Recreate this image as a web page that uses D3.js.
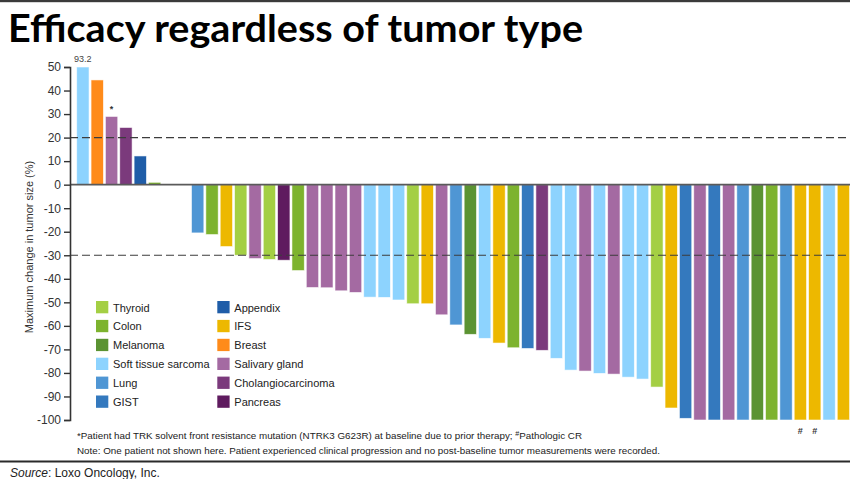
<!DOCTYPE html>
<html><head><meta charset="utf-8">
<script src="https://cdn.jsdelivr.net/npm/d3@7"></script>
<style>body{margin:0;background:#fff;} svg{display:block;font-family:"Liberation Sans",Arial,sans-serif;}</style>
</head><body><svg id="c" width="850" height="479"></svg>
<script>
// ---- data ----
const titleText = "Efficacy regardless of tumor type";
const yAxisLabel = "Maximum change in tumor size (%)";
const tumorTypes = ["Thyroid","Colon","Melanoma","Soft tissue sarcoma","Lung","GIST",
                    "Appendix","IFS","Breast","Salivary gland","Cholangiocarcinoma","Pancreas"];
const typeColors = ["#A4CF44","#7DB32E","#5B9332","#8DD3FE","#4F96D4","#3479BE",
                    "#1F5DA8","#EDB800","#FF8B1A","#A46AA2","#7B3A7C","#5F1B5F"];
const patientTypes = [
  "Soft tissue sarcoma","Breast","Salivary gland","Cholangiocarcinoma","Appendix","Colon",null,null,
  "Lung","Colon","IFS","Thyroid","Salivary gland","Thyroid","Pancreas","Colon",
  "Salivary gland","Salivary gland","Salivary gland","Salivary gland",
  "Soft tissue sarcoma","Soft tissue sarcoma","Soft tissue sarcoma","Thyroid","IFS","Salivary gland",
  "Lung","Melanoma","Soft tissue sarcoma","IFS","Colon","GIST","Cholangiocarcinoma",
  "Soft tissue sarcoma","Soft tissue sarcoma","Salivary gland","Soft tissue sarcoma","Salivary gland",
  "Soft tissue sarcoma","Soft tissue sarcoma","Thyroid","IFS","GIST","Salivary gland","GIST",
  "Salivary gland","Lung","Melanoma","Colon","Lung","IFS","IFS","Soft tissue sarcoma","IFS"];
const patientValues = [
  93.2, 44.5, 29, 24.3, 12.2, 1.0, 0, 0,
  -20.5, -21.2, -26.3, -30, -31.4, -31.8, -32.1, -36.5,
  -43.7, -43.8, -45.1, -45.8,
  -47.8, -47.9, -49, -50.6, -50.6, -55.3,
  -59.6, -63.6, -65.3, -67.3, -69.3, -69.6, -70.4,
  -73.8, -78.8, -79.2, -80.2, -80.5,
  -81.8, -82.6, -86, -94.9, -99.3, -100, -100,
  -100, -100, -100, -100, -100, -100, -100, -100, -100];
const patientMarks = ["", "", "*", "", "", "", "", "",
  "","","","","","","","", "","","","", "","","","","","",
  "","","","","","","", "","","","","", "","","","","","","",
  "","","","","","#","#","",""];
const valueLabels = [{index:0, text:"93.2"}];
const yTicks = [50,40,30,20,10,0,-10,-20,-30,-40,-50,-60,-70,-80,-90,-100];
const refLines = [20, -30];
const footnote1Parts = ["*Patient had TRK solvent front resistance mutation (NTRK3 G623R) at baseline due to prior therapy; ", "#", "Pathologic CR"];
const footnote2 = "Note: One patient not shown here. Patient experienced clinical progression and no post-baseline tumor measurements were recorded.";
const sourceLabel = "Source";
const sourceText = ": Loxo Oncology, Inc.";

// ---- drawing ----
const svg = d3.select("#c");
const color = d3.scaleOrdinal().domain(tumorTypes).range(typeColors);
const x = d3.scaleBand().domain(d3.range(patientValues.length))
  .range([76.7, 849.6]).paddingInner(0.14).paddingOuter(0);
const y = d3.scaleLinear().domain([-100, 50]).range([420, 67]);
const axisX = 70;

// top rule
svg.append("rect").attr("x",0).attr("y",0).attr("width",850).attr("height",2.2).attr("fill","#3a3a3a");

// title
svg.append("text").attr("x",8).attr("y",42)
  .attr("font-family","Lato, 'Open Sans', sans-serif").attr("font-weight","bold")
  .attr("font-size",38).attr("fill","#000")
  .attr("textLength",575).attr("lengthAdjust","spacingAndGlyphs")
  .text(titleText);

// bars
const data = patientValues.map((v,i)=>({i, v, t: patientTypes[i], m: patientMarks[i]}));
svg.append("g").selectAll("rect").data(data.filter(d=>d.t)).join("rect")
  .attr("x", d=>x(d.i)).attr("width", x.bandwidth())
  .attr("y", d=>y(Math.min(Math.max(d.v, 0), 50)))
  .attr("height", d=>Math.abs(y(Math.min(Math.max(d.v,-100),50)) - y(0)))
  .attr("fill", d=>color(d.t))
  .attr("stroke","#ffffff").attr("stroke-opacity",0.7).attr("stroke-width",0.8);

// zero line
svg.append("line").attr("x1",axisX).attr("x2",850).attr("y1",y(0)).attr("y2",y(0))
  .attr("stroke","#5a5a5a").attr("stroke-width",1.6);

// reference dashed lines
svg.append("g").selectAll("line").data(refLines).join("line")
  .attr("x1",axisX).attr("x2",850).attr("y1",d=>y(d)).attr("y2",d=>y(d))
  .attr("stroke","#3c3c3c").attr("stroke-width",1.1).attr("stroke-dasharray","8,4");

// y axis
const yAxis = d3.axisLeft(y).tickValues(yTicks).tickSize(6).tickPadding(3).tickFormat(d=>String(d));
const gy = svg.append("g").attr("transform",`translate(${axisX},0)`).call(yAxis);
gy.select(".domain").attr("stroke","#333").attr("stroke-width",1.6);
gy.selectAll(".tick line").attr("stroke","#333").attr("stroke-width",1.4);
gy.selectAll(".tick text").attr("font-family","'Liberation Sans', Arial, sans-serif")
  .attr("font-size",12).attr("fill","#333");

// y axis label
svg.append("text").attr("transform","translate(33,247) rotate(-90)")
  .attr("text-anchor","middle").attr("font-size",11).attr("fill","#333")
  .text(yAxisLabel);

// value label & marks
svg.append("g").selectAll("text").data(valueLabels).join("text")
  .attr("x", d=>x(d.index)+x.bandwidth()/2).attr("y",62)
  .attr("text-anchor","middle").attr("font-size",9).attr("fill","#444").text(d=>d.text);
svg.append("g").selectAll("text").data(data.filter(d=>d.m)).join("text")
  .attr("x", d=>x(d.i)+x.bandwidth()/2)
  .attr("y", d=> d.v>0 ? y(d.v)-4 : y(Math.max(d.v,-100))+14)
  .attr("text-anchor","middle").attr("font-size",9).attr("font-weight","bold").attr("fill","#333")
  .text(d=>d.m);

// legend
const legend = svg.append("g");
const leg = legend.selectAll("g").data(tumorTypes).join("g")
  .attr("transform",(d,i)=>`translate(${i<6?96:217.3},${301+ (i%6)*18.9})`);
leg.append("rect").attr("width",12.3).attr("height",12.3).attr("fill",d=>color(d));
leg.append("text").attr("x",17).attr("y",10.5).attr("font-size",11).attr("fill","#222").text(d=>d);

// footnotes
const f1 = svg.append("text").attr("x",77).attr("y",439).attr("font-size",9.6).attr("fill","#222")
  .attr("textLength",505).attr("lengthAdjust","spacingAndGlyphs");
f1.append("tspan").text(footnote1Parts[0]);
f1.append("tspan").attr("font-size",7).attr("dy",-3).text(footnote1Parts[1]);
f1.append("tspan").attr("dy",3).text(footnote1Parts[2]);
svg.append("text").attr("x",77).attr("y",454).attr("font-size",9.6).attr("fill","#222")
  .attr("textLength",583).attr("lengthAdjust","spacingAndGlyphs").text(footnote2);

// bottom rule
svg.append("rect").attr("x",0).attr("y",460.5).attr("width",850).attr("height",2).attr("fill","#2a2a2a");

// source
const src = svg.append("text").attr("x",10).attr("y",477).attr("font-size",12).attr("fill","#222");
src.append("tspan").attr("font-style","italic").text(sourceLabel);
src.append("tspan").text(sourceText);
</script></body></html>
